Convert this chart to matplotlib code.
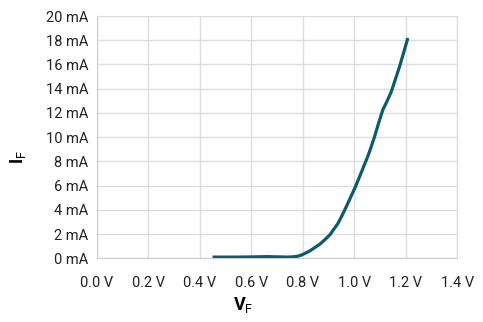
import matplotlib
matplotlib.use("Agg")
import matplotlib.pyplot as plt

plt.rcParams['font.family'] = ['Roboto', 'DejaVu Sans']
plt.rcParams['mathtext.fontset'] = 'custom'
plt.rcParams['mathtext.rm'] = 'Roboto'
plt.rcParams['mathtext.bf'] = 'Roboto:bold'

# forward voltage (V) vs forward current (mA)
vf = [0.45, 0.55, 0.62, 0.66, 0.70, 0.74, 0.762, 0.78, 0.795, 0.81, 0.827,
      0.845, 0.866, 0.885, 0.905, 0.92, 0.937, 0.953, 0.969, 0.985, 1.002,
      1.018, 1.034, 1.047, 1.060, 1.079, 1.095, 1.111, 1.128, 1.144, 1.160,
      1.176, 1.192, 1.208]
i_f = [0.1, 0.1, 0.12, 0.14, 0.12, 0.1, 0.12, 0.17, 0.27, 0.42, 0.6,
       0.86, 1.16, 1.52, 1.93, 2.38, 2.89, 3.55, 4.26, 5.0, 5.79,
       6.6, 7.44, 8.12, 8.85, 10.05, 11.2, 12.26, 13.0, 13.77, 14.8,
       15.83, 17.0, 18.18]

xticks = [0.0, 0.2, 0.4, 0.6, 0.8, 1.0, 1.2, 1.4]
yticks = [0, 2, 4, 6, 8, 10, 12, 14, 16, 18, 20]

fig = plt.figure(figsize=(4.83, 3.22), dpi=100)
ax = fig.add_axes([96.7/483, 1 - 258.3/322, 360.6/483, 242.3/322])

ax.plot(vf, i_f, color='#0d5a6e', lw=2.3, solid_capstyle='butt',
        solid_joinstyle='round')

ax.set_xlim(0, 1.4)
ax.set_ylim(0, 20)
ax.set_xticks(xticks)
ax.set_xticklabels([f"{v:.1f} V" for v in xticks])
ax.set_yticks(yticks)
ax.set_yticklabels([f"{v} mA" for v in yticks])
ax.tick_params(length=0, labelsize=10.5, colors='#222222', pad=6)
ax.tick_params(axis='x', pad=13)
ax.grid(True, color='#dddddd', lw=1)
for s in ax.spines.values():
    s.set_color('#dddddd')
ax.spines['bottom'].set_color('#cccccc')
ax.spines['left'].set_color('#cccccc')
ax.set_axisbelow(True)

ax.set_xlabel(r'$\mathbf{V}_{\mathrm{F}}$', fontsize=13)
ax.set_ylabel(r'$\mathbf{I}_{\mathrm{F}}$', fontsize=13)
ax.xaxis.set_label_coords(0.406, -0.152)
ax.yaxis.set_label_coords(-0.19, 0.42)

fig.savefig("out.png", dpi=100)
